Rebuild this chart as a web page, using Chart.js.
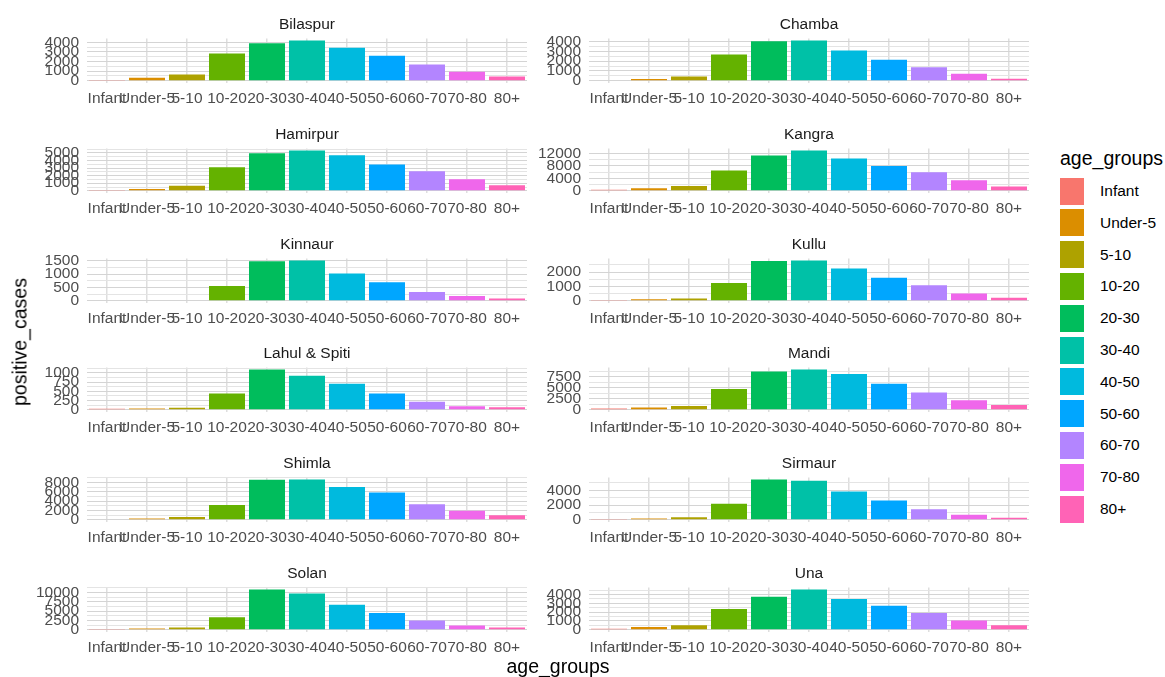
<!DOCTYPE html>
<html>
<head>
<meta charset="utf-8">
<script src="https://cdn.jsdelivr.net/npm/chart.js@4/dist/chart.umd.min.js"></script>
<style>
  body { margin: 0; background: #fff; font-family: "Liberation Sans", Arial, sans-serif; }
  #wrap { position: relative; width: 1165px; height: 677px; overflow: hidden; }
  canvas { position: absolute; }
  .axtitle { position: absolute; font-size: 19.5px; color: #000; white-space: nowrap; }
  .key { position: absolute; width: 24px; height: 27px; }
  .keylab { position: absolute; font-size: 15.5px; color: #000; line-height: 18px; }
</style>
</head>
<body>
<div id="wrap"></div>
<script>
const ageGroups = ['Infant', 'Under-5', '5-10', '10-20', '20-30', '30-40', '40-50', '50-60', '60-70', '70-80', '80+'];
const groupColors = ['#F8766D', '#DB8E00', '#AEA200', '#64B200', '#00BD5C', '#00C1A7', '#00BADE', '#00A6FF', '#B385FF', '#EF67EB', '#FF63B6'];

const districts = ['Bilaspur', 'Chamba', 'Hamirpur', 'Kangra', 'Kinnaur', 'Kullu',
                   'Lahul & Spiti', 'Mandi', 'Shimla', 'Sirmaur', 'Solan', 'Una'];

// positive cases per age group
const bilaspur   = [70, 313, 660, 2820, 3900, 4170, 3440, 2610, 1700, 940, 450];
const chamba     = [0, 170, 440, 2670, 4030, 4100, 3080, 2150, 1370, 720, 200];
const hamirpur   = [90, 220, 650, 3090, 4960, 5300, 4700, 3480, 2570, 1520, 740];
const kangra     = [310, 830, 1570, 6470, 11270, 12840, 10330, 7930, 5950, 3340, 1360];
const kinnaur    = [0, 0, 0, 556, 1475, 1500, 1016, 690, 327, 181, 85];
const kullu      = [50, 115, 160, 1240, 2780, 2800, 2250, 1610, 1080, 510, 210];
const lahulSpiti = [26, 35, 53, 439, 1088, 921, 702, 439, 219, 96, 70];
const mandi      = [290, 510, 880, 4780, 8750, 9190, 8160, 5960, 3970, 2210, 1100];
const shimla     = [0, 280, 625, 3190, 8600, 8620, 7010, 5830, 3330, 1940, 970];
const sirmaur    = [45, 180, 360, 2160, 5440, 5300, 3820, 2610, 1440, 670, 270];
const solan      = [90, 350, 610, 3390, 10780, 9740, 6700, 4520, 2520, 1130, 610];
const una        = [110, 330, 510, 2360, 3750, 4550, 3490, 2730, 1890, 1050, 510];

const districtValues = [bilaspur, chamba, hamirpur, kangra, kinnaur, kullu,
                        lahulSpiti, mandi, shimla, sirmaur, solan, una];
// y break spacing per panel (free y scales)
const tickSteps = [1000, 1000, 1000, 4000, 500, 1000, 250, 2500, 2000, 2000, 2500, 1000];

const FONT = '"Liberation Sans", Arial, sans-serif';
const wrap = document.getElementById('wrap');

districts.forEach((name, i) => {
    const values = districtValues[i];
    const maxV = Math.max(...values);
    const lo = -0.05 * maxV, hi = 1.05 * maxV;
    const step = tickSteps[i];
    const major = [], minor = [];
    for (let v = 0; v <= hi; v += step) major.push(v);
    for (let v = step / 2; v <= hi; v += step) minor.push(v);

    const cv = document.createElement('canvas');
    cv.width = 500; cv.height = 100;
    cv.style.left = (i % 2 === 0 ? 30 : 532) + 'px';
    cv.style.top = (10 + 109.8 * Math.floor(i / 2)) + 'px';
    wrap.appendChild(cv);

    new Chart(cv, {
        type: 'bar',
        data: {
            labels: ageGroups,
            datasets: [{
                data: values,
                backgroundColor: groupColors,
                categoryPercentage: 0.9,
                barPercentage: 1
            }]
        },
        options: {
            responsive: false,
            animation: false,
            layout: { padding: { left: 0, right: 3, top: 0, bottom: 0 } },
            plugins: {
                legend: { display: false },
                tooltip: { enabled: false },
                title: {
                    display: true,
                    text: name,
                    fullSize: false,
                    color: '#1a1a1a',
                    font: { family: FONT, size: 15.5, weight: 'normal' },
                    padding: { top: 5.2, bottom: 4.8 }
                }
            },
            scales: {
                x: {
                    grid: { color: '#dedede', lineWidth: 1.5, drawTicks: false, offset: false },
                    border: { display: false },
                    ticks: {
                        autoSkip: false, maxRotation: 0, minRotation: 0,
                        color: '#4d4d4d', font: { family: FONT, size: 15.5 }, padding: 7
                    },
                    afterFit: s => { s.height = 27.2; }
                },
                y: {
                    min: lo, max: hi,
                    grid: { color: '#d4d4d4', lineWidth: 1, drawTicks: false },
                    border: { display: false },
                    ticks: {
                        autoSkip: false, color: '#4d4d4d',
                        font: { family: FONT, size: 15.5 }, padding: 8,
                        callback: v => String(v)
                    },
                    afterBuildTicks: s => { s.ticks = major.map(v => ({ value: v })); },
                    afterFit: s => { s.width = 57; }
                },
                yMinor: {
                    position: 'left',
                    min: lo, max: hi,
                    grid: { color: '#e4e4e4', lineWidth: 1, drawTicks: false },
                    border: { display: false },
                    ticks: { display: false },
                    afterBuildTicks: s => { s.ticks = minor.map(v => ({ value: v })); },
                    afterFit: s => { s.width = 0; }
                }
            }
        }
    });
});

// axis titles
const yTitle = document.createElement('div');
yTitle.className = 'axtitle';
yTitle.textContent = 'positive_cases';
yTitle.style.left = '20px';
yTitle.style.top = '342px';
yTitle.style.transform = 'translate(-50%, -50%) rotate(-90deg)';
wrap.appendChild(yTitle);

const xTitle = document.createElement('div');
xTitle.className = 'axtitle';
xTitle.textContent = 'age_groups';
xTitle.style.left = '558px';
xTitle.style.top = '666px';
xTitle.style.transform = 'translate(-50%, -50%)';
wrap.appendChild(xTitle);

// legend
const legTitle = document.createElement('div');
legTitle.className = 'axtitle';
legTitle.textContent = 'age_groups';
legTitle.style.left = '1060px';
legTitle.style.top = '147px';
legTitle.style.lineHeight = '22px';
wrap.appendChild(legTitle);

ageGroups.forEach((g, k) => {
    const cy = 191 + 31.8 * k;
    const key = document.createElement('div');
    key.className = 'key';
    key.style.left = '1060px';
    key.style.top = (cy - 13.5) + 'px';
    key.style.background = groupColors[k];
    wrap.appendChild(key);
    const lab = document.createElement('div');
    lab.className = 'keylab';
    lab.textContent = g;
    lab.style.left = '1100px';
    lab.style.top = (cy - 9) + 'px';
    wrap.appendChild(lab);
});
</script>
</body>
</html>
